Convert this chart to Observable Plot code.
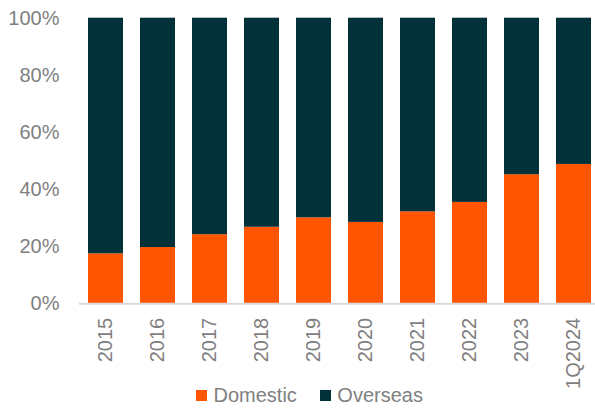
<!DOCTYPE html>
<html>
<head>
<meta charset="utf-8">
<script src="https://cdn.jsdelivr.net/npm/d3@7"></script>
<script src="https://cdn.jsdelivr.net/npm/@observablehq/plot@0.6"></script>
<style>
  html, body { margin: 0; padding: 0; background: #fff; overflow: hidden; }
  #chart { position: relative; width: 595px; height: 408px; font-family: "Liberation Sans", Arial, sans-serif; }
  #legend { position: absolute; left: 196px; top: 384px; line-height: 23px; }
  #legend > div { min-height: 0 !important; margin: 0 !important; }
  #legend [class$="-swatch"] { margin-right: 23px !important; }
  #legend [class$="-swatch"] svg { margin-right: 6.5px !important; }
</style>
</head>
<body>
<div id="chart"></div>
<script>
const periods = ["2015", "2016", "2017", "2018", "2019", "2020", "2021", "2022", "2023", "1Q2024"];
const domestic = [17.5, 19.7, 24.2, 26.8, 30.1, 28.5, 32.2, 35.5, 45.2, 48.8];
const overseas = [82.5, 80.3, 75.8, 73.2, 69.9, 71.5, 67.8, 64.5, 54.8, 51.2];
const seriesNames = ["Domestic", "Overseas"];
const seriesColors = ["#FF5500", "#02313A"];
const yTicks = [0, 20, 40, 60, 80, 100];

const rows = [];
periods.forEach((p, i) => rows.push({period: p, series: "Domestic", value: domestic[i]}));
periods.forEach((p, i) => rows.push({period: p, series: "Overseas", value: overseas[i]}));

const textColor = "#7f7f7f";

const chart = Plot.plot({
  width: 595,
  height: 390,
  marginTop: 17.7,
  marginBottom: 86.7,
  marginLeft: 79,
  marginRight: 0,
  style: { fontFamily: "'Liberation Sans', Arial, sans-serif", fontSize: "20px", color: textColor, background: "transparent", overflow: "visible" },
  x: { domain: periods, range: [79, 600.3], paddingInner: 0.333, paddingOuter: 0.16, label: null },
  y: { domain: [0, 100], label: null },
  color: { domain: seriesNames, range: seriesColors },
  marks: [
    Plot.barY(rows, Plot.stackY({ x: "period", y: "value", fill: "series" })),
    Plot.ruleY([0], { stroke: "#d9d9d9", strokeWidth: 2 }),
    Plot.axisY({ ticks: yTicks, tickFormat: d => d + "%", tickSize: 0, tickPadding: 20, fontSize: 20, fill: textColor, label: null }),
    Plot.axisX({ tickSize: 0, tickPadding: 14, tickRotate: -90, fontSize: 20, fill: textColor, label: null })
  ]
});
document.getElementById("chart").appendChild(chart);

const legend = Plot.legend({
  legend: "swatches",
  color: { domain: seriesNames, range: seriesColors },
  swatchSize: 11,
  style: { fontFamily: "'Liberation Sans', Arial, sans-serif", fontSize: "20px", color: textColor }
});
const lg = document.createElement("div");
lg.id = "legend";
lg.appendChild(legend);
document.getElementById("chart").appendChild(lg);
</script>
</body>
</html>
